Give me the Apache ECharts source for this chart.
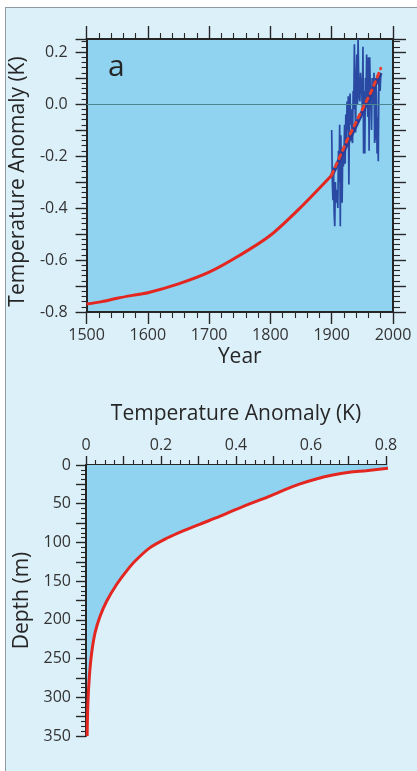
<!DOCTYPE html>
<html><head><meta charset="utf-8">
<script src="https://cdn.jsdelivr.net/npm/echarts@6/dist/echarts.min.js"></script>
<style>
html,body{margin:0;padding:0;background:#fff;width:417px;height:771px;overflow:hidden}
#panel{position:absolute;left:5px;top:7px;width:412px;height:764px;background:#dcf0fa;border-left:1px solid #8c9ba6;border-top:1px solid #8c9ba6;box-sizing:border-box}
#chart{position:absolute;left:0;top:0;width:417px;height:771px}
</style></head><body>
<div id="panel"></div><div id="chart"></div>
<script>
// ---- Panel a: surface temperature anomaly (K) ----
const histYears   = [1500, 1525, 1550, 1575, 1600, 1650, 1700, 1750, 1800, 1850, 1900];
const histAnomaly = [-0.769, -0.760, -0.747, -0.736, -0.726, -0.692, -0.647, -0.582, -0.505, -0.396, -0.274];

const obsYears = [1900,1901,1902,1903,1904,1905,1906,1907,1908,1909,1910,1911,1912,1913,1914,1915,1916,1917,1918,1919,
  1920,1921,1922,1923,1924,1925,1926,1927,1928,1929,1930,1931,1932,1933,1934,1935,1936,1937,1938,1939,
  1940,1941,1942,1943,1944,1945,1946,1947,1948,1949,1950,1951,1952,1953,1954,1955,1956,1957,1958,1959,
  1960,1961,1962,1963,1964,1965,1966,1967,1968,1969,1970,1971,1972,1973,1974,1975,1976,1977,1978,1979,1980];
const obsAnomaly = [-0.10,-0.30,-0.37,-0.25,-0.42,-0.47,-0.30,-0.38,-0.33,-0.36,-0.40,-0.18,-0.30,-0.08,-0.47,-0.12,-0.32,-0.38,-0.17,-0.24,
  -0.20,-0.08,-0.23,-0.04,-0.15,0.01,-0.10,0.03,-0.31,-0.05,0.04,-0.08,-0.02,-0.14,-0.15,0.05,-0.02,0.23,0.02,-0.11,
  0.10,0.19,0.00,0.25,0.10,0.02,0.01,0.12,0.08,0.05,-0.02,0.22,-0.19,0.05,-0.19,0.10,0.02,0.19,0.00,-0.05,
  0.18,-0.18,0.18,0.05,0.02,-0.10,0.10,0.08,0.00,0.12,-0.15,-0.13,0.10,0.04,-0.19,-0.05,-0.22,0.10,0.12,0.05,0.11];

const trendYears   = [1900, 1940, 1980];
const trendAnomaly = [-0.275, -0.080, 0.120];

const fitYears   = [1900, 1925, 1950, 1965, 1980];
const fitAnomaly = [-0.273, -0.140, -0.020, 0.050, 0.137];

// ---- Panel b: ocean temperature profile ----
const profileDepth   = [3.9, 7.4, 9.5, 13, 18, 24.7, 33, 42, 48.5, 59, 68, 76.6, 85, 94, 107, 124, 137, 154, 176, 196, 217, 243, 273, 308, 350];
const profileAnomaly = [0.813, 0.747, 0.702, 0.658, 0.614, 0.569, 0.525, 0.481, 0.445, 0.392, 0.348, 0.303, 0.259, 0.218, 0.170, 0.131, 0.108, 0.082, 0.055, 0.037, 0.024, 0.015, 0.009, 0.005, 0.003];

const zip = (a, b) => a.map((v, i) => [v, b[i]]);
const FONT = 'Open Sans';
const INK = '#262626';
const PLOT = '#8fd3f1';

function isMult(v, s) { return Math.abs(v / s - Math.round(v / s)) < 1e-6; }

const axLine = { show: true, onZero: false, lineStyle: { color: INK, width: 2 } };
function ticks(len) { return { show: true, length: len, lineStyle: { color: INK, width: 1.4 } }; }
function minor(n, len) { return { show: true, splitNumber: n, length: len, lineStyle: { color: INK, width: 1.1 } }; }
const nameStyle = { fontFamily: FONT, fontSize: 21, color: INK };
const labStyle = { fontFamily: FONT, fontSize: 16, color: '#333' };

const chart = echarts.init(document.getElementById('chart'), null, { renderer: 'canvas' });
chart.setOption({
  backgroundColor: 'transparent',
  animation: false,
  textStyle: { fontFamily: FONT },
  grid: [
    { left: 86, top: 39, width: 307, height: 273, show: true, backgroundColor: PLOT, borderWidth: 0 },
    { left: 86, top: 465, width: 300, height: 271, show: false }
  ],
  xAxis: [
    { gridIndex: 0, type: 'value', position: 'bottom', min: 1500, max: 2000, interval: 100,
      axisLine: axLine, axisTick: ticks(12), minorTick: minor(5, 6), splitLine: { show: false },
      axisLabel: Object.assign({ margin: 15, formatter: v => String(v) }, labStyle),
      name: 'Year', nameLocation: 'middle', nameGap: 35, nameTextStyle: nameStyle },
    { gridIndex: 0, type: 'value', position: 'top', min: 1500, max: 2000, interval: 100,
      axisLine: axLine, axisTick: ticks(13), minorTick: minor(5, 6), splitLine: { show: false },
      axisLabel: { show: false } },
    { gridIndex: 1, type: 'value', position: 'top', min: 0, max: 0.8, interval: 0.1,
      axisLine: axLine, axisTick: ticks(9), minorTick: minor(4, 5), splitLine: { show: false },
      axisLabel: Object.assign({ margin: 12,
        formatter: v => v === 0 ? '0' : (isMult(v, 0.2) ? v.toFixed(1) : '') }, labStyle),
      name: 'Temperature Anomaly (K)', nameLocation: 'middle', nameGap: 40, nameTextStyle: nameStyle }
  ],
  yAxis: [
    { gridIndex: 0, type: 'value', position: 'left', min: -0.8, max: 0.25, interval: 0.1,
      axisLine: axLine, axisTick: ticks(11), minorTick: minor(5, 5), splitLine: { show: false },
      axisLabel: Object.assign({ margin: 19,
        formatter: v => isMult(v, 0.2) ? v.toFixed(1) : '' }, labStyle),
      name: 'Temperature Anomaly (K)', nameLocation: 'middle', nameGap: 50,
      nameTextStyle: Object.assign({ padding: [0, 12, 0, 0] }, nameStyle) },
    { gridIndex: 0, type: 'value', position: 'right', min: -0.8, max: 0.25, interval: 0.1,
      axisLine: axLine, axisTick: ticks(13), minorTick: minor(5, 7), splitLine: { show: false },
      axisLabel: { show: false } },
    { gridIndex: 1, type: 'value', position: 'left', inverse: true, min: 0, max: 350, interval: 25,
      axisLine: axLine, axisTick: ticks(10), minorTick: minor(4, 5), splitLine: { show: false },
      axisLabel: Object.assign({ margin: 15,
        formatter: v => isMult(v, 50) ? String(v) : '' }, labStyle),
      name: 'Depth (m)', nameLocation: 'middle', nameGap: 50, nameTextStyle: nameStyle }
  ],
  series: [
    { type: 'line', xAxisIndex: 0, yAxisIndex: 0, data: [], silent: true,
      markLine: { silent: true, symbol: ['none', 'none'], label: { show: false },
        lineStyle: { color: '#4b8793', width: 1.2, type: 'solid' }, data: [{ yAxis: 0 }] } },
    { type: 'line', xAxisIndex: 0, yAxisIndex: 0, data: zip(histYears, histAnomaly), symbol: 'none',
      smooth: 0.3, lineStyle: { color: '#e3261f', width: 3 }, z: 5 },
    { type: 'line', xAxisIndex: 0, yAxisIndex: 0, data: zip(obsYears, obsAnomaly), symbol: 'none',
      lineStyle: { color: '#2a49a3', width: 1.7 }, z: 3 },
    { type: 'line', xAxisIndex: 0, yAxisIndex: 0, data: zip(trendYears, trendAnomaly), symbol: 'none',
      lineStyle: { color: '#2b3b98', width: 4 }, z: 4 },
    { type: 'line', xAxisIndex: 0, yAxisIndex: 0, data: zip(fitYears, fitAnomaly), symbol: 'none',
      lineStyle: { color: '#ea3d2b', width: 3, type: [4, 5], cap: 'round' }, z: 6 },
    { type: 'line', xAxisIndex: 2, yAxisIndex: 2, data: zip(profileAnomaly, profileDepth), symbol: 'none',
      smooth: 0.3, clip: false, lineStyle: { color: '#e3261f', width: 3 },
      areaStyle: { color: PLOT, opacity: 1 }, z: 3 }
  ],
  graphic: [
    { type: 'text', left: 108, top: 52, style: { text: 'a', fontFamily: FONT, fontSize: 30, fill: INK } },
    { type: 'text', left: 114, top: 467, style: { text: 'b', fontFamily: FONT, fontSize: 31, fill: INK } }
  ]
});
</script>
</body></html>
